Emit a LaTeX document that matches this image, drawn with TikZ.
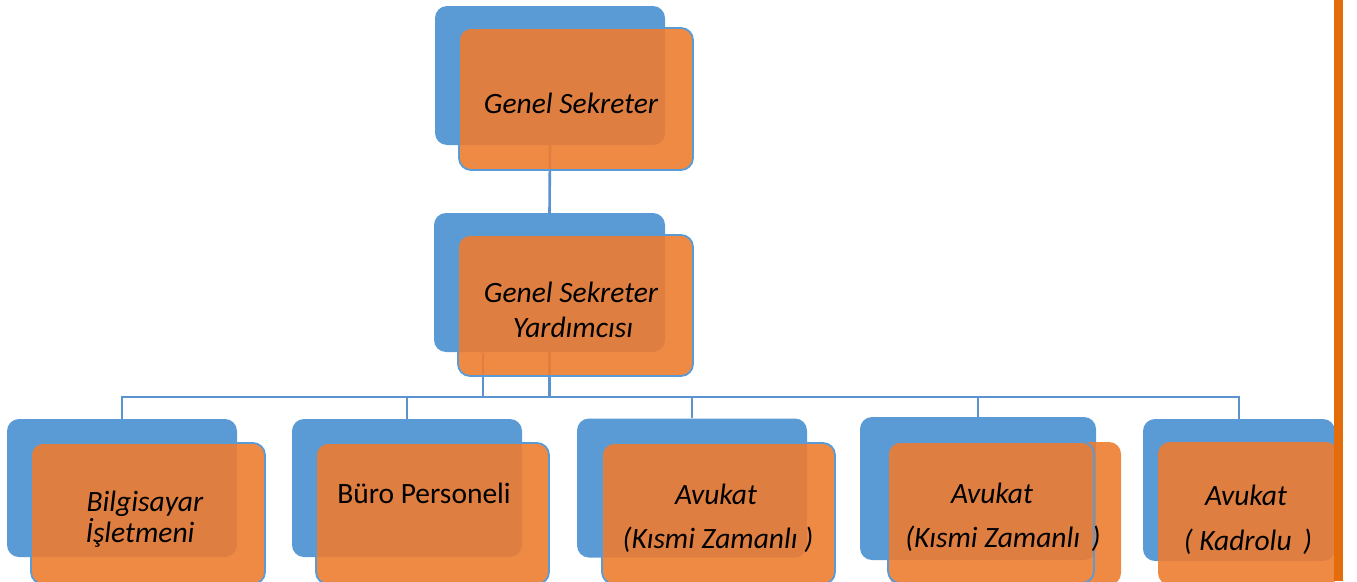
\documentclass[tikz,border=0pt]{standalone}
\usepackage{fontspec}
\setmainfont{Carlito}
\definecolor{cblue}{HTML}{5B9BD5}
\definecolor{corange}{HTML}{ED7D31}
\definecolor{cbar}{HTML}{E46C0A}
\definecolor{cline}{HTML}{5B93CF}
\begin{document}
\begin{tikzpicture}[x=1pt,y=-1pt,
  bluebox/.style={rectangle, rounded corners=12pt, fill=cblue, draw=none, inner sep=0pt},
  orangebox/.style={rectangle, rounded corners=12pt, fill=corange, fill opacity=0.9, draw=cblue, line width=1.8pt, inner sep=0pt},
  orangeplain/.style={rectangle, rounded corners=12pt, fill=corange, fill opacity=0.9, draw=none, inner sep=0pt},
  outlinebox/.style={rectangle, rounded corners=12pt, draw=cblue, line width=1.8pt, inner sep=0pt},
  conn/.style={draw=cline, line width=2.6pt},
  lbl/.style={anchor=base, inner sep=0pt, font=\fontsize{29.5}{31}\selectfont\itshape, text=black},
  lblup/.style={anchor=base, inner sep=0pt, font=\fontsize{29.5}{31}\selectfont, text=black}]
\useasboundingbox (0,0) rectangle (1357,581);
\clip (0,0) rectangle (1357,581);
% blue back boxes
\node[bluebox, minimum width=230pt, minimum height=139pt] (gsB) at (550,75.5) {};
\node[bluebox, minimum width=231pt, minimum height=139pt] (gsyB) at (549.5,282.5) {};
\node[bluebox, minimum width=230pt, minimum height=138pt] (n1B) at (122,488) {};
\node[bluebox, minimum width=230pt, minimum height=138pt] (n2B) at (407,488) {};
\node[bluebox, minimum width=230pt, minimum height=139pt] (n3B) at (692,488) {};
\node[bluebox, minimum width=236pt, minimum height=143pt] (n4B) at (978,488.5) {};
\node[bluebox, minimum width=192pt, minimum height=142pt] (n5B) at (1239,490) {};
% connectors
\coordinate (bar) at (549.5,397);
\coordinate (sideTop) at (483,353);
\coordinate (sideBot) at (483,397);
\draw[conn] (gsB.south) -- (gsyB.north);
\draw[conn] (gsyB.south) -- (bar);
\draw[conn] (sideTop) -- (sideBot);
\draw[conn] (bar) -| (n1B.north);
\draw[conn] (bar) -| (n2B.north);
\draw[conn] (bar) -| (n3B.north);
\draw[conn] (bar) -| (n4B.north);
\draw[conn] (bar) -| (n5B.north);
% orange front boxes
\node[orangebox, minimum width=234pt, minimum height=142pt] (gsO) at (576,99) {};
\node[orangebox, minimum width=235pt, minimum height=141pt] (gsyO) at (575.5,305.5) {};
\node[orangebox, minimum width=234pt, minimum height=141pt] (n1O) at (148,513.5) {};
\node[orangebox, minimum width=233pt, minimum height=141pt] (n2O) at (432.5,513.5) {};
\node[orangebox, minimum width=233pt, minimum height=141pt] (n3O) at (718.5,513.5) {};
\node[orangeplain, minimum width=233pt, minimum height=143pt] (n4O) at (1004.5,513.5) {};
\node[outlinebox, minimum width=206pt, minimum height=141pt] (n4L) at (991,512.5) {};
\node[orangeplain, minimum width=180pt, minimum height=143pt] (n5O) at (1248,513.5) {};
% texts
\node[lbl] (t1) at (571,113) {Genel Sekreter};
\node[lbl] (t2a) at (571,302) {Genel Sekreter};
\node[lbl] (t2b) at (573,337) {Yardımcısı};
\node[lbl] (t3a) at (145,511) {Bilgisayar};
\node[lbl] (t3b) at (140,542) {İşletmeni};
\node[lblup] (t4) at (424,503) {Büro Personeli};
\node[lbl] (t5a) at (716,504) {Avukat};
\node[lbl] (t5b) at (718,548) {(Kısmi Zamanlı )};
\node[lbl] (t6a) at (992,503) {Avukat};
\node[lbl] (t6b) at (1003,547) {(Kısmi Zamanlı\ \,)};
\node[lbl] (t7a) at (1246,505) {Avukat};
\node[lbl] (t7b) at (1248,550) {( Kadrolu\ \,)};
% right bar
\fill[cbar] (1334,0) rectangle (1343,581);
\end{tikzpicture}
\end{document}
